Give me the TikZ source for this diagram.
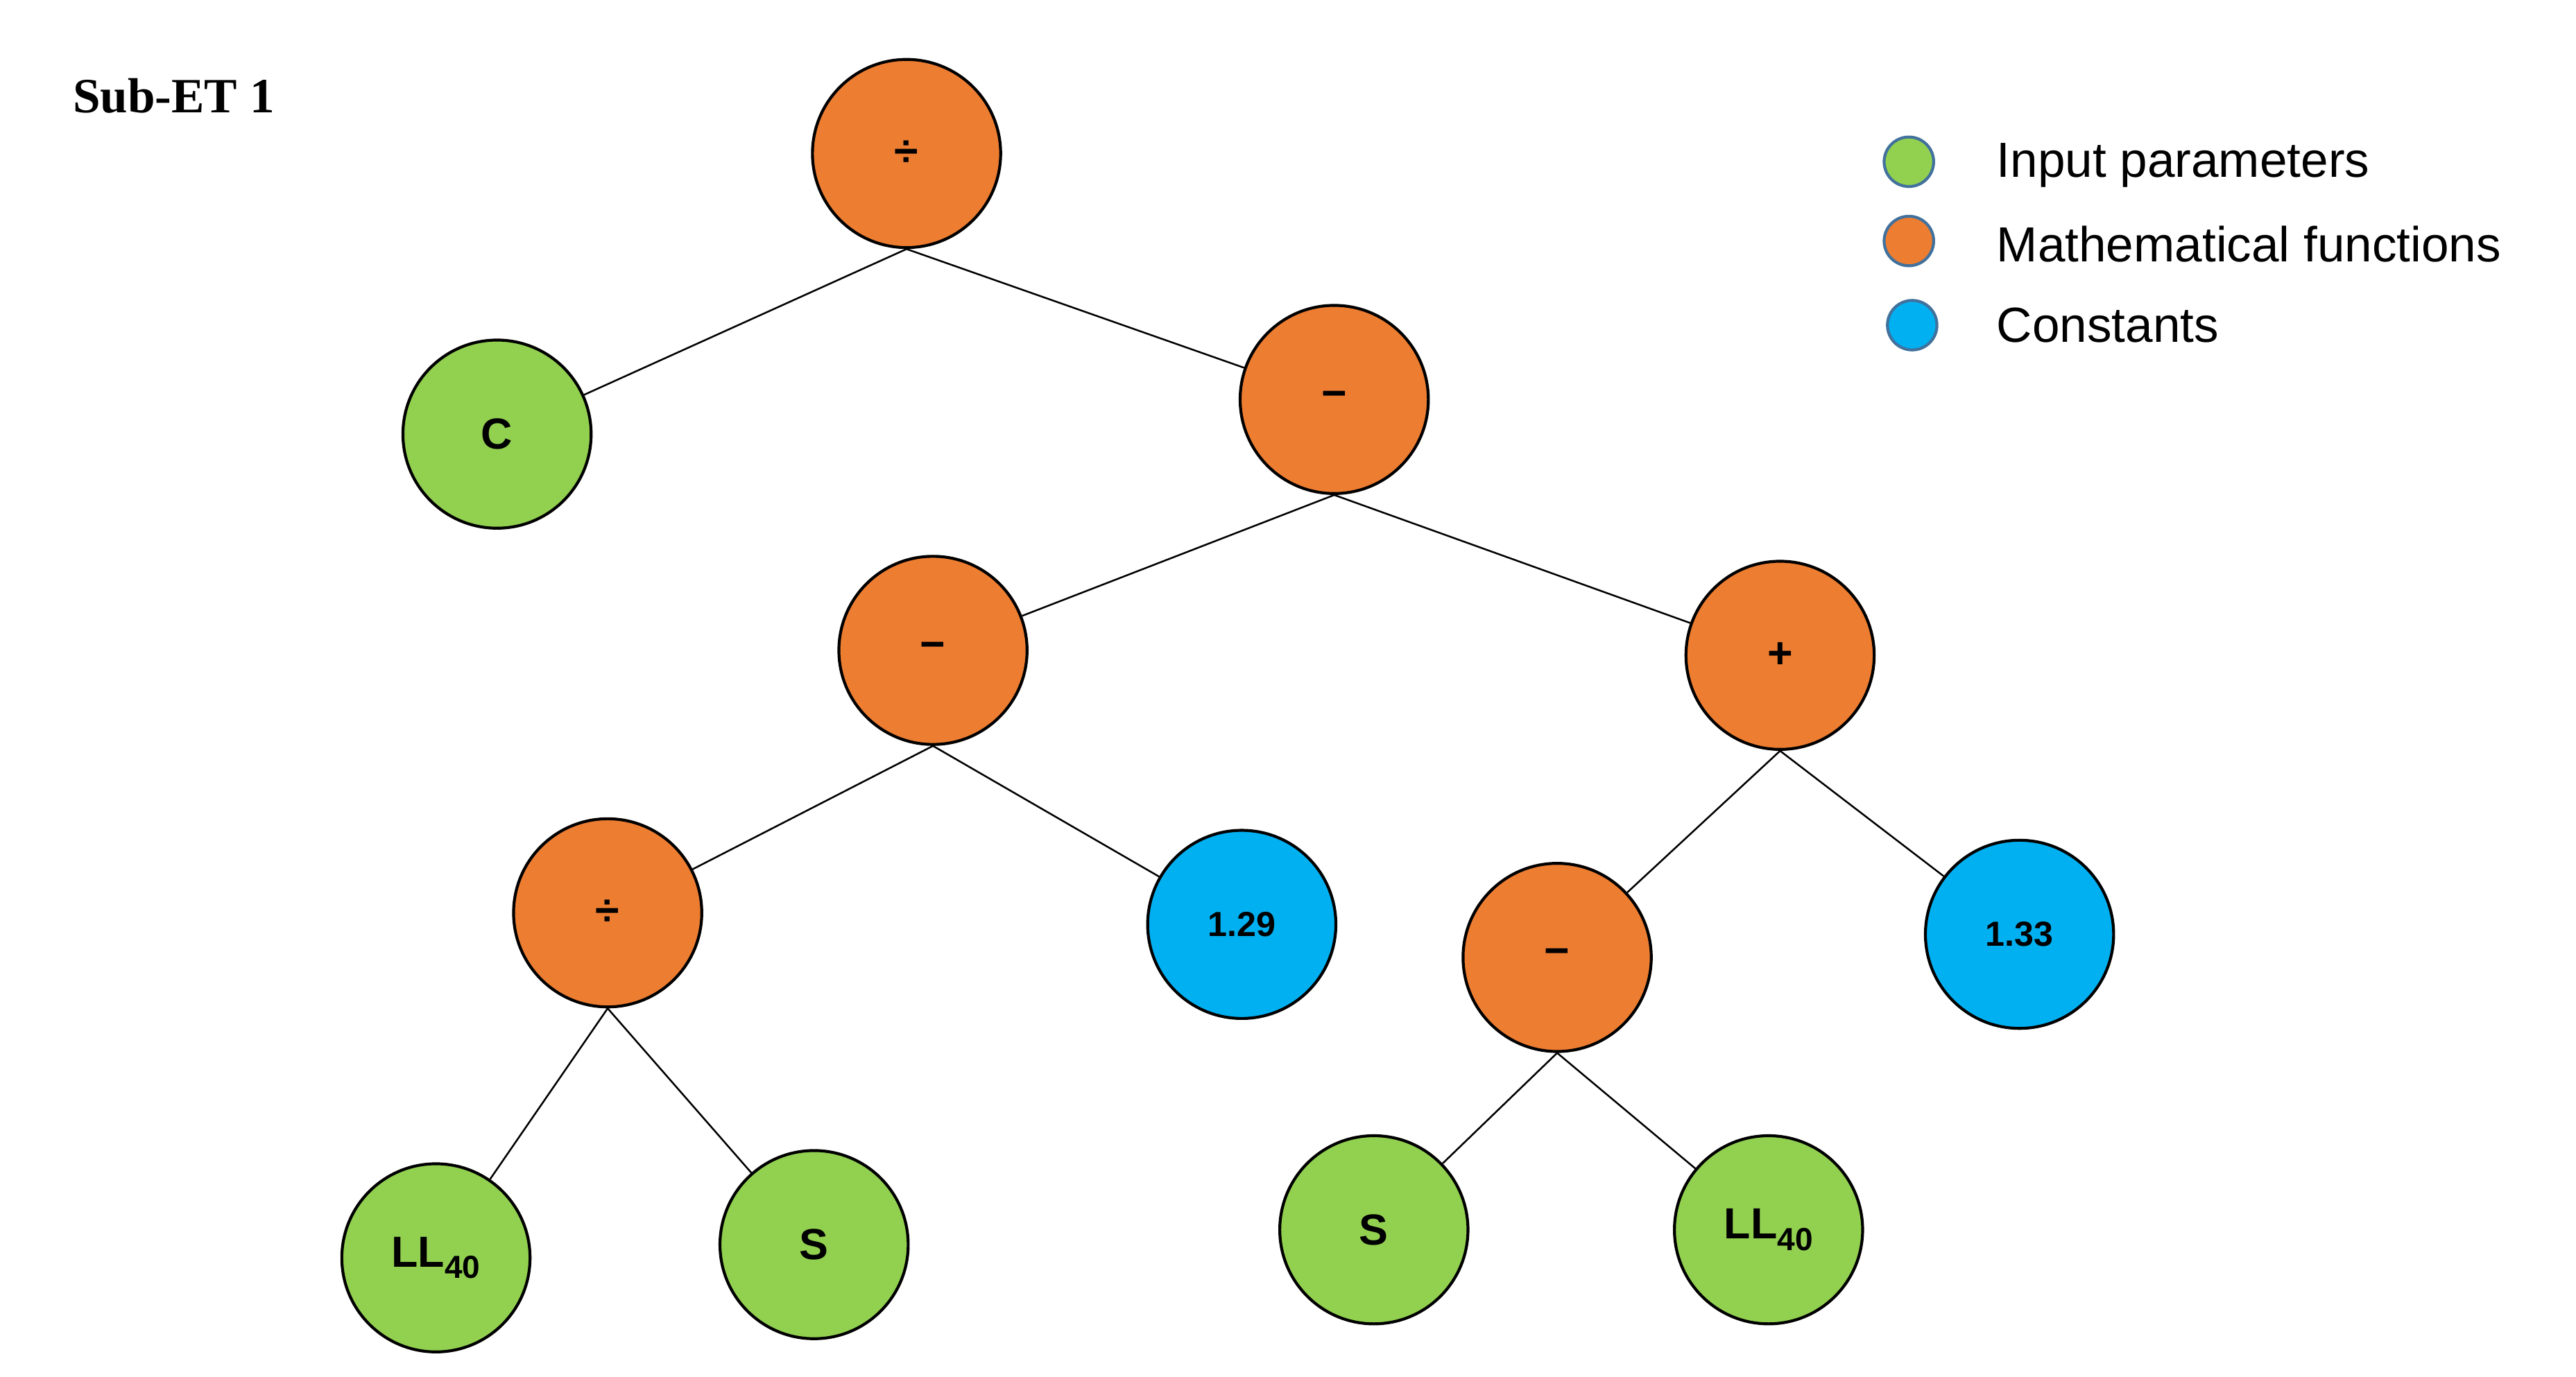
\documentclass[tikz,border=0pt]{standalone}
\usepackage{fontspec}
\setmainfont{Liberation Sans}
\newfontfamily\serifx{Liberation Serif}
\begin{document}
\begin{tikzpicture}[x=0.02cm,y=-0.02cm,
 nd/.style={circle,draw=black,line width=1pt,minimum size=2.28cm,inner sep=0pt,font=\fontsize{15}{18}\selectfont\bfseries},
 g/.style={nd,fill=grn}, o/.style={nd,fill=org}, b/.style={nd,fill=blu,font=\fontsize{12}{14}\selectfont\bfseries},
 lg/.style={circle,draw=lgc,line width=1pt,minimum size=0.6cm,inner sep=0pt},
 lt/.style={anchor=west,font=\fontsize{17}{20}\selectfont},
 ed/.style={draw=black,line width=0.6pt}]
\definecolor{grn}{HTML}{92D050}\definecolor{org}{HTML}{ED7D31}\definecolor{blu}{HTML}{00B0F0}\definecolor{lgc}{HTML}{41719C}
\useasboundingbox (0,0) rectangle (1560,834);
\node[anchor=west,font=\serifx\fontsize{17}{20}\selectfont\bfseries] (title) at (38,58) {Sub-ET 1};
\node[o] (r) at (549,93) {÷};
\node[g] (c) at (301,263) {C};
\node[o] (m1) at (808,242) {\textminus};
\node[o] (m2) at (565,394) {\textminus};
\node[o] (p) at (1078,397) {+};
\node[o] (d2) at (368,553) {÷};
\node[b] (k1) at (752,560) {1.29};
\node[o] (m3) at (943,580) {\textminus};
\node[b] (k2) at (1223,566) {1.33};
\node[g] (l1) at (264,762) {LL\raisebox{-0.5ex}{\fontsize{11}{12}\selectfont 40}};
\node[g] (s1) at (493,754) {S};
\node[g] (s2) at (832,745) {S};
\node[g] (l2) at (1071,745) {LL\raisebox{-0.5ex}{\fontsize{11}{12}\selectfont 40}};
\foreach \a/\b in {r/c,r/m1,m1/m2,m1/p,m2/d2,m2/k1,p/m3,p/k2,d2/l1,d2/s1,m3/s2,m3/l2}
  \draw[ed] (\a.south) -- (\b);
\node[lg,fill=grn] (lg1) at (1156,98) {};
\node[lg,fill=org] (lg2) at (1156,146) {};
\node[lg,fill=blu] (lg3) at (1158,197) {};
\node[lt] (t1) at (1203,100) {Input parameters};
\node[lt] (t2) at (1203,148) {Mathematical functions};
\node[lt] (t3) at (1203,197) {Constants};
\end{tikzpicture}
\end{document}
